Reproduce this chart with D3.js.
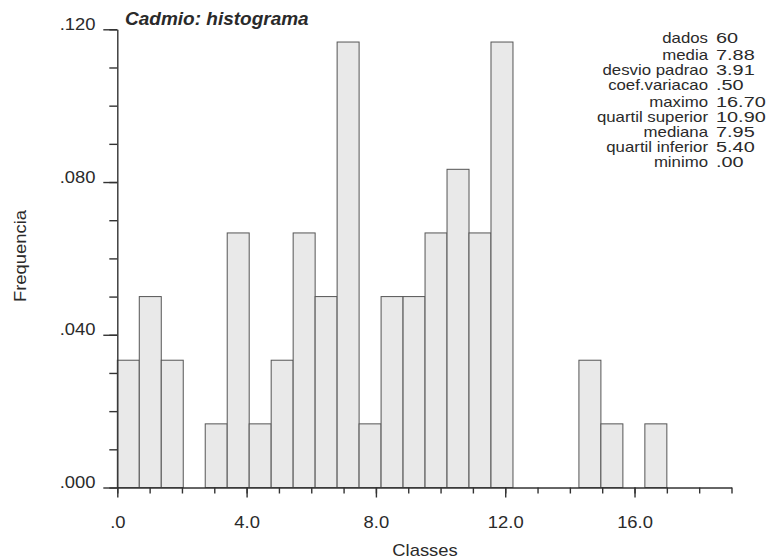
<!DOCTYPE html>
<html>
<head>
<meta charset="utf-8">
<script src="https://cdn.jsdelivr.net/npm/d3@7"></script>
<style>
  body { margin: 0; background: #fff; }
  text { font-family: "Liberation Sans", Arial, sans-serif; fill: #2a2a2a; }
</style>
</head>
<body>
<div id="chart"></div>
<script>
// histogram data: 25 classes of width .68 starting at 0, counts out of 60
var classStart = 0;
var classWidth = 0.68;
var counts = [2, 3, 2, 0, 1, 4, 1, 2, 4, 3, 7, 1, 3, 3, 4, 5, 4, 7, 0, 0, 0, 2, 1, 0, 1];
var total = 60;

// axis ticks
var xMajorTicks = [0, 4, 8, 12, 16];
var yMajorTicks = [0, 0.04, 0.08, 0.12];

// summary table
var statLabels = ["dados", "media", "desvio padrao", "coef.variacao",
                  "maximo", "quartil superior", "mediana", "quartil inferior", "minimo"];
var statValues = ["60", "7.88", "3.91", ".50", "16.70", "10.90", "7.95", "5.40", ".00"];
var statGroups = [0, 1, 1, 1, 2, 2, 2, 2, 2];

var width = 769, height = 560;
var sx = 1.15; // the source lettering is wide

var svg = d3.select("#chart").append("svg")
  .attr("width", width)
  .attr("height", height);

var x = d3.scaleLinear().domain([0, 19]).range([117.3, 731.5]);
var y = d3.scaleLinear().domain([0, 0.12]).range([487.5, 29.3]);

var bins = counts.map(function(c, i) {
  return { x0: classStart + i * classWidth, x1: classStart + (i + 1) * classWidth, f: c / total };
});

// bars
svg.append("g").selectAll("rect")
  .data(bins)
  .enter().append("rect")
  .attr("x", function(d) { return x(d.x0); })
  .attr("width", function(d) { return x(d.x1) - x(d.x0); })
  .attr("y", function(d) { return y(d.f); })
  .attr("height", function(d) { return y(0) - y(d.f); })
  .attr("fill", "#e9e9e9")
  .attr("stroke", "#555")
  .attr("stroke-width", 1);

function strip0(s) { return s.replace(/^0\./, "."); }

// y axis: minor ticks
svg.append("g")
  .attr("transform", "translate(" + x(0) + ",0)")
  .call(d3.axisLeft(y).tickValues(d3.range(0, 13).map(function(i) { return i / 100; }))
        .tickSize(8).tickFormat(""))
  .call(function(g) { g.select(".domain").remove(); });

// y axis: major ticks + labels
var yAxis = svg.append("g")
  .attr("transform", "translate(" + x(0) + ",0)")
  .call(d3.axisLeft(y).tickValues(yMajorTicks).tickSize(14).tickSizeOuter(0).tickPadding(5)
        .tickFormat(function(d) { return strip0(d3.format(".3f")(d)); }));
yAxis.selectAll("text")
  .attr("dy", 0)
  .attr("font-size", 16)
  .attr("transform", "scale(" + sx + ",1)");

// x axis: minor ticks
svg.append("g")
  .attr("transform", "translate(0," + y(0) + ")")
  .call(d3.axisBottom(x).tickValues(d3.range(0, 20)).tickSize(6).tickFormat(""))
  .call(function(g) { g.select(".domain").remove(); });

// x axis: major ticks + labels
var xAxis = svg.append("g")
  .attr("transform", "translate(0," + y(0) + ")")
  .call(d3.axisBottom(x).tickValues(xMajorTicks).tickSize(10).tickSizeOuter(0).tickPadding(19)
        .tickFormat(function(d) { return strip0(d3.format(".1f")(d)); }));
xAxis.selectAll("text")
  .attr("font-size", 16)
  .attr("transform", "scale(" + sx + ",1)");

svg.selectAll(".domain, .tick line")
  .attr("stroke", "#333")
  .attr("stroke-width", 1.4);

// titles
svg.append("text")
  .attr("x", 125).attr("y", 25)
  .attr("font-size", 19)
  .attr("font-weight", "bold")
  .attr("font-style", "italic")
  .text("Cadmio: histograma");

svg.append("text")
  .attr("transform", "translate(425,556) scale(" + sx + ",1)")
  .attr("text-anchor", "middle")
  .attr("font-size", 16)
  .text("Classes");

svg.append("text")
  .attr("transform", "translate(26,256) rotate(-90) scale(" + sx + ",1)")
  .attr("text-anchor", "middle")
  .attr("font-size", 16)
  .text("Frequencia");

// summary stats
var stats = svg.append("g").attr("font-size", 14);
var rowY = function(i) { return 43 + i * 15 + statGroups[i] * 2; };

stats.selectAll(".lab")
  .data(statLabels)
  .enter().append("text")
  .attr("class", "lab")
  .attr("text-anchor", "end")
  .attr("transform", function(d, i) { return "translate(708," + rowY(i) + ") scale(1.2,1)"; })
  .text(function(d) { return d; });

stats.selectAll(".val")
  .data(statValues)
  .enter().append("text")
  .attr("class", "val")
  .attr("transform", function(d, i) { return "translate(716," + rowY(i) + ") scale(1.42,1)"; })
  .text(function(d) { return d; });
</script>
</body>
</html>
